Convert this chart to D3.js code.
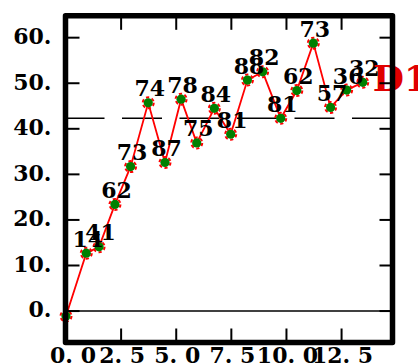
<!DOCTYPE html>
<html><head><meta charset="utf-8">
<script src="https://cdn.jsdelivr.net/npm/d3@7"></script>
<style>
html,body{margin:0;padding:0;background:#fff;}
svg{display:block;}
</style>
</head><body>
<svg id="chart" width="418" height="364"></svg>
<script>
const xValues = [0, 0.92, 1.5, 2.22, 2.93, 3.73, 4.49, 5.22, 5.93, 6.73, 7.47, 8.23, 8.92, 9.74, 10.47, 11.22, 12.0, 12.73, 13.46];
const yValues = [-1.1, 12.7, 14.1, 23.4, 31.7, 45.7, 32.6, 46.5, 36.9, 44.5, 38.8, 50.7, 52.5, 42.3, 48.4, 58.8, 44.7, 48.5, 50.2];
const pointLabels = ["", "14", "41", "62", "73", "74", "87", "78", "75", "84", "81", "88", "82", "81", "62", "73", "57", "36", "32"];
const seriesName = "D1";
const referenceLevel = 42.3;
const xTicks = [0, 2.5, 5, 7.5, 10, 12.5];
const xTickLabels = ["0. 0", "2. 5", "5. 0", "7. 5", "10. 0", "12. 5"];
const yTicks = [0, 10, 20, 30, 40, 50, 60];
const yTickLabels = ["0.", "10.", "20.", "30.", "40.", "50.", "60."];

const svg = d3.select("#chart");
const L = 65.5, R = 392.5, T = 15.8, B = 342.5;
const x = d3.scaleLinear().domain([0, 14.81]).range([L + 0.5, R]);
const y = d3.scaleLinear().domain([-6.9, 64.8]).range([B, T]);
const font = "'DejaVu Serif', serif";

// zero line
svg.append("line").attr("x1", L).attr("x2", R).attr("y1", y(0)).attr("y2", y(0))
  .attr("stroke", "#000").attr("stroke-width", 1.5);
// reference dashed line
svg.append("line").attr("x1", L - 1).attr("x2", R).attr("y1", y(referenceLevel)).attr("y2", y(referenceLevel))
  .attr("stroke", "#000").attr("stroke-width", 1.5).attr("stroke-dasharray", "40,17.5");

const data = xValues.map((v, i) => ({x: v, y: yValues[i], label: pointLabels[i]}));

// series line
svg.append("path").datum(data)
  .attr("fill", "none").attr("stroke", "#ff0000").attr("stroke-width", 1.8)
  .attr("d", d3.line().x(d => x(d.x)).y(d => y(d.y)));

// markers
const m = svg.append("g");
m.selectAll("circle.ring").data(data).join("circle")
  .attr("cx", d => x(d.x)).attr("cy", d => y(d.y)).attr("r", 5.5)
  .attr("fill", "none").attr("stroke", "#ff0000").attr("stroke-width", 2)
  .attr("stroke-dasharray", "3.2,2.56");
m.selectAll("circle.dot").data(data).join("circle")
  .attr("cx", d => x(d.x)).attr("cy", d => y(d.y)).attr("r", 4.6)
  .attr("fill", "#008000");

// point labels
svg.append("g").selectAll("text").data(data).join("text")
  .attr("x", d => x(d.x) + 1.5).attr("y", d => y(d.y) - 6.5)
  .attr("text-anchor", "middle")
  .attr("font-family", font).attr("font-weight", "bold").attr("font-size", 22)
  .attr("fill", "#000").text(d => d.label);

// series name
const last = data[data.length - 1];
svg.append("text").attr("x", x(last.x) + 10).attr("y", y(last.y) + 9)
  .attr("font-family", font).attr("font-weight", "bold").attr("font-size", 36)
  .attr("fill", "#e00000").text(seriesName);

// ticks
const tk = svg.append("g").attr("stroke", "#000").attr("stroke-width", 2);
yTicks.forEach(v => {
  tk.append("line").attr("x1", L).attr("x2", L + 14).attr("y1", y(v)).attr("y2", y(v));
  tk.append("line").attr("x1", R - 13).attr("x2", R).attr("y1", y(v)).attr("y2", y(v));
});
xTicks.forEach(v => {
  tk.append("line").attr("x1", x(v)).attr("x2", x(v)).attr("y1", B).attr("y2", B - 14);
  tk.append("line").attr("x1", x(v)).attr("x2", x(v)).attr("y1", T).attr("y2", T + 14);
});

// frame
svg.append("rect").attr("x", L).attr("y", T).attr("width", R - L).attr("height", B - T)
  .attr("fill", "none").attr("stroke", "#000").attr("stroke-width", 5.5)
  .attr("stroke-linejoin", "round");

// tick labels
svg.append("g").selectAll("text").data(yTicks).join("text")
  .attr("x", 51.5).attr("y", d => y(d) + 6.3).attr("text-anchor", "end")
  .attr("font-family", font).attr("font-weight", "bold").attr("font-size", 22)
  .text((d, i) => yTickLabels[i]);
svg.append("g").selectAll("text").data(xTicks).join("text")
  .attr("x", (d, i) => x(d) + (i === 0 ? 7 : 1)).attr("y", 363).attr("text-anchor", "middle")
  .attr("font-family", font).attr("font-weight", "bold").attr("font-size", 22)
  .text((d, i) => xTickLabels[i]);
</script>
</body></html>
